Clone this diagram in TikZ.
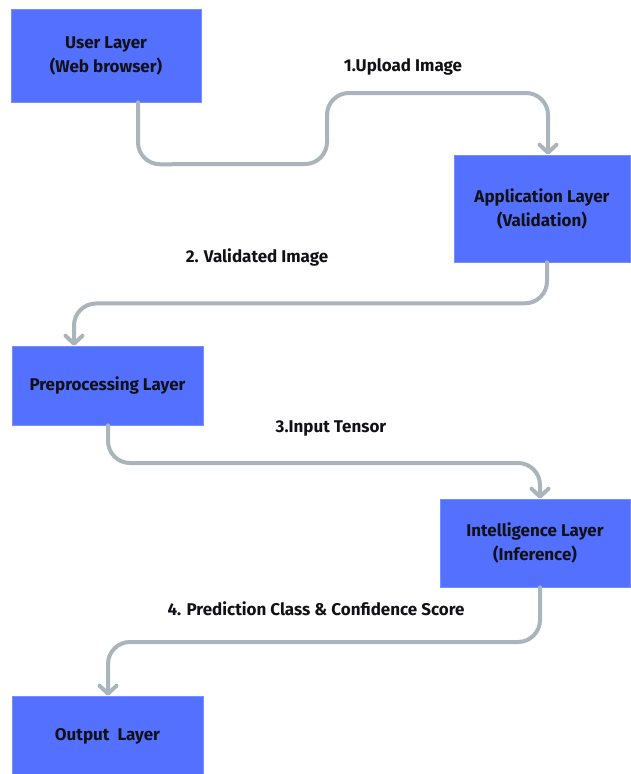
\documentclass[tikz,border=0pt]{standalone}
\usepackage{fontspec}
\setmainfont{Fira Sans}
\usetikzlibrary{arrows.meta,calc}

\definecolor{layerblue}{HTML}{5470FF}
\definecolor{flowgrey}{HTML}{A9B4BB}
\definecolor{inktext}{HTML}{111118}

\tikzset{
  layer/.style={rectangle, fill=layerblue, draw=layerblue!80!white, line width=0.6pt,
    inner sep=0pt, align=center, text=inktext, font=\bfseries\fontsize{17}{24}\selectfont},
  flow/.style={draw=flowgrey, line width=4pt, rounded corners=22pt, line cap=round,
    -{Straight Barb[length=8pt,width=17pt,line cap=round,line join=round]}},
  flowlabel/.style={text=inktext, font=\bfseries\fontsize{17}{20}\selectfont, inner sep=0pt}
}

\begin{document}
\begin{tikzpicture}[x=1pt, y=-1pt]
  \useasboundingbox (0,0) rectangle (630,774);

  % layers
  \node[layer, minimum width=190pt, minimum height=93pt] (user) at (106,55.5)
    {User Layer\\(Web browser)};
  \node[layer, minimum width=176pt, minimum height=107pt] (app) at (542,208.5)
    {Application Layer\\(Validation)};
  \node[layer, minimum width=191pt, minimum height=79pt] (pre) at (107.5,385.5)
    {Preprocessing Layer};
  \node[layer, minimum width=190pt, minimum height=88pt] (intel) at (535,543)
    {Intelligence Layer\\(Inference)};
  \node[layer, minimum width=191pt, minimum height=80pt] (out) at (107.5,736)
    {Output\ \ Layer};

  % data flow between layers
  \draw[flow] ($(user.south)+(32,0)$) -- ++(0,62) -- (327,164) -- (327,93)
    -- (548,93) -- (app.north -| 548,0);
  \draw[flow] ($(app.south)+(5,0)$) -- ++(0,41) -- (74,303.5) -- (pre.north -| 74,0);
  \draw[flow] ($(pre.south)+(0.5,0)$) -- (108,463) -- (540,463) -- (intel.north -| 540,0);
  \draw[flow] ($(intel.south)+(5,0)$) -- (540,642) -- (108,642) -- (out.north -| 108,0);

  % flow labels
  \node[flowlabel] (l1) at (403,67) {1.Upload Image};
  \node[flowlabel] (l2) at (257,257) {2. Validated Image};
  \node[flowlabel] (l3) at (331,428) {3.Input Tensor};
  \node[flowlabel] (l4) at (316,609) {4. Prediction Class \& Confidence Score};
\end{tikzpicture}
\end{document}
